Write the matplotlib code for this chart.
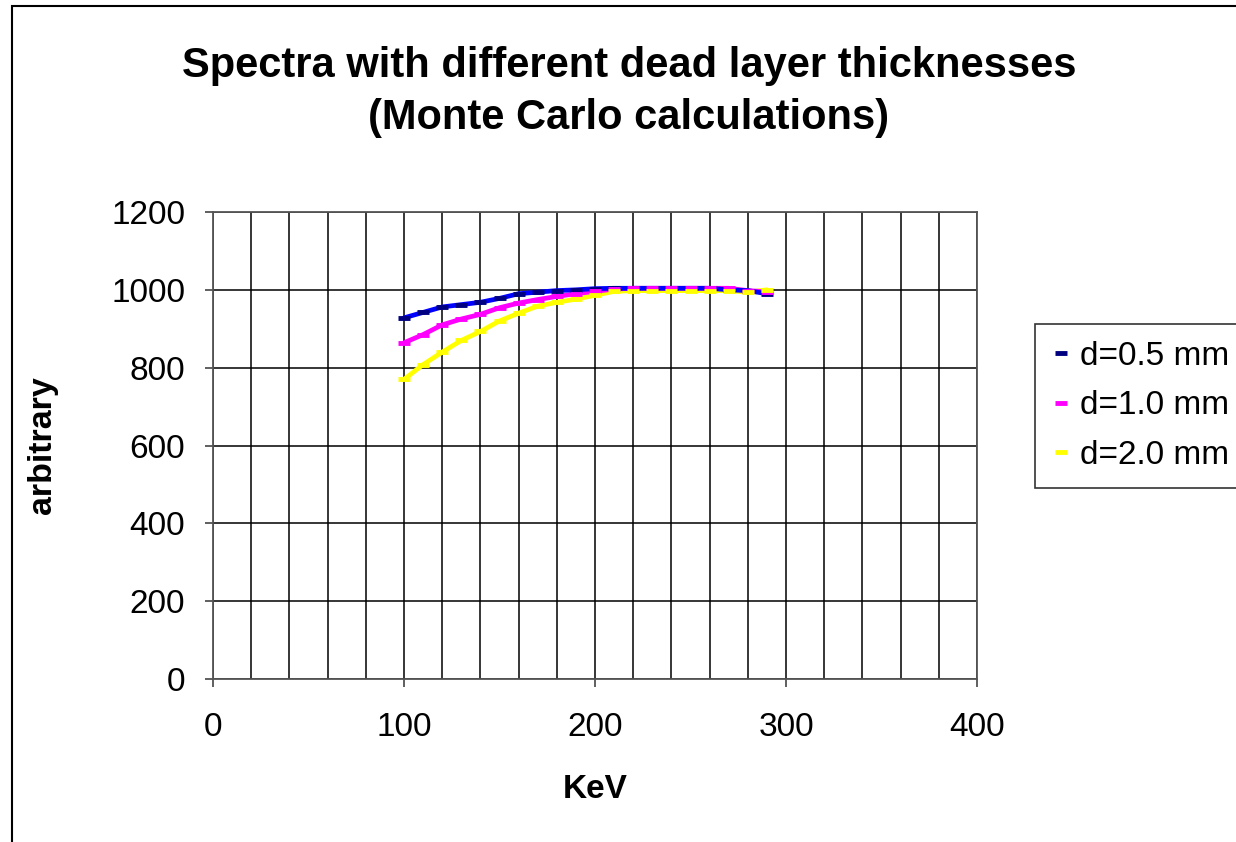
import matplotlib.pyplot as plt
from matplotlib.patches import Rectangle
from matplotlib.ticker import MultipleLocator

plt.rcParams['font.family'] = ['Liberation Sans', 'DejaVu Sans']

# energie (keV) des points Monte Carlo
kev = [100, 110, 120, 130, 140, 150, 160, 170, 180, 190,
       200, 210, 220, 230, 240, 250, 260, 270, 280, 290]
d05 = [928, 942, 956, 962, 968, 978, 990, 994, 998, 1000,
       1003, 1004, 1004, 1004, 1004, 1004, 1004, 1000, 998, 990]
d10 = [864, 885, 910, 925, 937, 954, 966, 975, 983, 990,
       996, 1002, 1004, 1004, 1004, 1004, 1004, 1004, 998, 995]
d20 = [770, 808, 840, 870, 893, 920, 940, 958, 968, 976,
       986, 996, 998, 998, 998, 998, 998, 998, 994, 1000]

labels = ["d=0.5 mm", "d=1.0 mm", "d=2.0 mm"]
series = [d05, d10, d20]
marker_colors = ["#000080", "#FF00FF", "#FFFF00"]
line_colors = ["#0000FF", "#FF00FF", "#FFFF00"]

W, H = 1236, 842
fig = plt.figure(figsize=(W / 100, H / 100), dpi=100)
fig.patch.set_facecolor("white")

# cadre exterieur (coupe a droite et en bas)
fig.patches.append(Rectangle((12 / W, -0.05), 1.1, 1 - 6 / H + 0.05,
                             transform=fig.transFigure, fill=False,
                             edgecolor="black", linewidth=1.5))

ax = fig.add_axes([213 / W, 1 - 679 / H, (977 - 213) / W, (679 - 212) / H])

# lignes de tendance puis marqueurs
handles = []
for ys, lc in list(zip(series, line_colors))[::-1]:
    ax.plot(kev, ys, color=lc, linewidth=3.4, solid_capstyle="round", zorder=3)
for ys, mc, lab in zip(series, marker_colors, labels):
    h, = ax.plot(kev, ys, linestyle="none", marker="_", markersize=8,
                 markeredgewidth=3.5, color=mc, label=lab, zorder=4)
    handles.append(h)

ax.set_xlim(0, 400)
ax.set_ylim(0, 1200)
ax.xaxis.set_major_locator(MultipleLocator(100))
ax.xaxis.set_minor_locator(MultipleLocator(20))
ax.yaxis.set_major_locator(MultipleLocator(200))
ax.grid(True, which="both", axis="x", color="black", linewidth=1.1)
ax.grid(True, which="major", axis="y", color="black", linewidth=1.1)
ax.tick_params(which="major", direction="out", length=6, width=1.2,
               labelsize=24, color="#444444")
ax.tick_params(axis="x", which="major", pad=18)
ax.tick_params(axis="y", which="major", pad=14)
ax.tick_params(which="minor", length=0)
for s in ax.spines.values():
    s.set_color("#555555")
    s.set_linewidth(1.3)

ax.set_xlabel("KeV", fontsize=24, fontweight="bold", labelpad=22)
ax.set_ylabel("arbitrary", fontsize=24.5, fontweight="bold", labelpad=38)

fig.text(629 / W, 1 - 92 / H,
         "Spectra with different dead layer thicknesses\n(Monte Carlo calculations)",
         ha="center", va="center", fontsize=30, fontweight="bold",
         linespacing=1.4)

leg = fig.legend(handles=handles, loc="upper left",
                 bbox_to_anchor=(1035 / W, 1 - 324 / H), fontsize=24,
                 frameon=True, fancybox=False, handlelength=0.55,
                 handletextpad=0.3, borderpad=0.5, labelspacing=0.56,
                 borderaxespad=0)
leg.get_frame().set_edgecolor("black")
leg.get_frame().set_linewidth(1.2)

fig.savefig("out.png", dpi=100)
